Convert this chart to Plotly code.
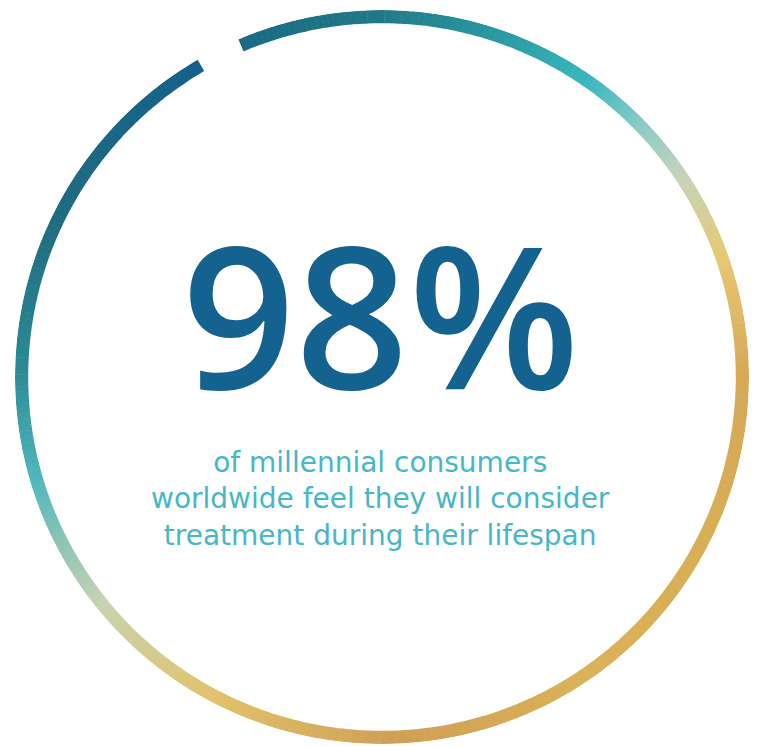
import plotly.graph_objects as go

# ---- data ----
percent_value = [98]
headline = ["98%"]
caption_lines = ["of millennial consumers",
                 "worldwide feel they will consider",
                 "treatment during their lifespan"]

# ---- style ----
start_angle = -23.0          # degrees clockwise from top where the arc begins
n_segments = 392
color_stops = [  # (fraction along the filled arc, hex colour)
    (0.00, "#1a6a85"),
    (0.065, "#1f7a86"),
    (0.12, "#2a9aa3"),
    (0.165, "#3ab8be"),
    (0.195, "#8ccbc6"),
    (0.225, "#c6d4ba"),
    (0.265, "#e6c874"),
    (0.32, "#d6a857"),
    (0.40, "#d9ae55"),
    (0.48, "#dab259"),
    (0.57, "#cf9f55"),
    (0.655, "#e2c26c"),
    (0.72, "#c8d3b0"),
    (0.785, "#4fb6bb"),
    (0.835, "#2a8a93"),
    (0.90, "#1e6d80"),
    (1.00, "#15608a"),
]


def hex2rgb(h):
    h = h.lstrip("#")
    return tuple(int(h[i:i + 2], 16) for i in (0, 2, 4))


def colour_at(f):
    for (f0, c0), (f1, c1) in zip(color_stops[:-1], color_stops[1:]):
        if f0 <= f <= f1:
            t = 0 if f1 == f0 else (f - f0) / (f1 - f0)
            a, b = hex2rgb(c0), hex2rgb(c1)
            return "rgb(%d,%d,%d)" % tuple(round(a[k] + (b[k] - a[k]) * t) for k in range(3))
    return color_stops[-1][1]


span = 360.0 * percent_value[0] / 100.0
w = span / n_segments
thetas = [start_angle + (i + 0.5) * w for i in range(n_segments)]
cols = [colour_at((i + 0.5) / n_segments) for i in range(n_segments)]

fig = go.Figure()
fig.add_trace(go.Barpolar(
    theta=thetas,
    r=[0.036] * n_segments,
    base=[0.964] * n_segments,
    width=[w * 1.08] * n_segments,
    marker=dict(color=cols, line=dict(width=0)),
    hoverinfo="skip",
    showlegend=False,
))

H = 747.0
annotations = [
    dict(text=headline[0], x=380 / 757, y=(H - 312) / H, xref="paper", yref="paper",
         showarrow=False, xanchor="center", yanchor="middle",
         font=dict(family="Open Sans", size=198, color="#14628f", weight=600)),
    dict(text="<br>".join(caption_lines), x=381 / 757, y=(H - 499) / H,
         xref="paper", yref="paper", showarrow=False, xanchor="center",
         yanchor="middle", align="center",
         font=dict(family="DejaVu Sans", size=28, color="#47b6c9")),
]

fig.update_layout(
    width=757, height=747,
    margin=dict(l=0, r=0, t=0, b=0),
    paper_bgcolor="white",
    plot_bgcolor="white",
    polar=dict(
        domain=dict(x=[15 / 757, 749 / 757], y=[3 / 747, 737 / 747]),
        bgcolor="rgba(0,0,0,0)",
        radialaxis=dict(range=[0, 1], visible=False),
        angularaxis=dict(rotation=90, direction="clockwise", visible=False),
    ),
    annotations=annotations,
)

fig.write_html("out.html", config={"displayModeBar": False},
               post_script="document.body.style.margin='0';document.body.style.overflow='hidden';")
